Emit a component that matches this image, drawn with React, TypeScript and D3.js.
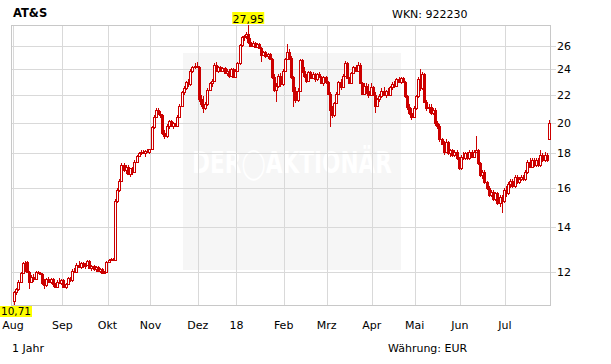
import React from "react";
import * as d3 from "d3";

const title = "AT&S";
const wkn = "WKN: 922230";
const periodLabel = "1 Jahr";
const currencyLabel = "Währung: EUR";
const monthLabels = ["Aug", "Sep", "Okt", "Nov", "Dez", "18", "Feb", "Mrz", "Apr", "Mai", "Jun", "Jul"];
const monthTradingDays = [23, 21, 20, 22, 18, 22, 20, 21, 20, 21, 21, 21];
const yTicks = [12, 14, 16, 18, 20, 22, 24, 26];

// daily candles: [open, high, low, close]
const candles: [number, number, number, number][] = [
  [10.85, 11.25, 10.71, 11.2], [11.2, 11.35, 11.1, 11.3], [11.3, 11.65, 11.25, 11.6], [11.6, 12.0, 11.55, 11.95],
  [11.95, 12.4, 11.9, 12.35], [12.35, 12.45, 12.0, 12.1], [12.4, 12.45, 11.95, 12.0], [12.0, 12.05, 11.3, 11.6],
  [11.6, 11.85, 11.55, 11.8], [11.8, 11.9, 11.6, 11.7], [11.7, 12.05, 11.65, 12.0], [12.0, 12.05, 11.9, 11.95],
  [11.95, 12.0, 11.85, 11.9], [11.9, 11.95, 11.45, 11.55], [11.55, 11.7, 11.3, 11.45], [11.45, 11.75, 11.4, 11.7],
  [11.7, 11.8, 11.55, 11.6], [11.6, 11.75, 11.5, 11.7], [11.7, 11.75, 11.4, 11.5], [11.5, 11.55, 11.35, 11.4],
  [11.4, 11.65, 11.35, 11.6], [11.6, 11.75, 11.5, 11.55], [11.55, 11.7, 11.45, 11.65],
  [11.65, 11.7, 11.35, 11.4], [11.4, 11.55, 11.3, 11.5], [11.5, 11.8, 11.45, 11.75], [11.75, 11.8, 11.6, 11.65],
  [11.65, 12.1, 11.6, 12.05], [12.05, 12.15, 11.95, 12.0], [12.0, 12.35, 11.95, 12.3], [12.3, 12.45, 12.15, 12.2],
  [12.2, 12.4, 12.1, 12.35], [12.35, 12.4, 12.15, 12.25], [12.25, 12.35, 12.1, 12.3], [12.3, 12.5, 12.25, 12.45],
  [12.45, 12.5, 12.1, 12.15], [12.15, 12.3, 12.05, 12.25], [12.25, 12.3, 12.05, 12.1], [12.1, 12.25, 12.0, 12.2],
  [12.2, 12.25, 12.0, 12.05], [12.05, 12.15, 11.95, 12.1], [12.1, 12.15, 11.9, 11.95], [11.95, 12.05, 11.9, 12.0],
  [12.0, 12.45, 11.95, 12.4],
  [12.4, 12.55, 12.35, 12.5], [12.5, 12.6, 12.45, 12.55], [12.55, 12.6, 12.45, 12.5], [12.5, 15.4, 12.45, 15.3],
  [15.3, 16.0, 15.2, 15.9], [15.9, 16.5, 15.8, 16.4], [16.4, 17.4, 16.35, 17.3], [17.3, 17.4, 16.9, 17.0],
  [17.0, 17.3, 16.8, 17.2], [17.2, 17.3, 16.7, 16.8], [16.8, 17.15, 16.6, 17.1], [17.1, 17.2, 16.7, 16.9],
  [16.9, 17.6, 16.85, 17.5], [17.5, 17.9, 17.4, 17.85], [17.85, 18.1, 17.8, 18.0], [18.0, 18.2, 17.9, 18.1],
  [18.1, 18.2, 17.95, 18.05], [18.05, 18.2, 17.8, 18.15], [18.15, 18.25, 18.0, 18.1], [18.1, 18.3, 17.95, 18.25],
  [18.25, 19.8, 18.2, 19.7], [19.7, 20.5, 19.6, 20.4], [20.4, 21.0, 20.3, 20.9], [20.9, 21.0, 20.5, 20.6],
  [20.6, 20.8, 20.3, 20.5], [20.5, 20.6, 19.2, 19.3], [19.3, 19.5, 18.9, 19.1], [19.1, 19.9, 19.0, 19.8],
  [19.8, 20.2, 19.6, 20.1], [20.1, 20.2, 19.7, 19.8], [19.8, 20.05, 19.6, 19.95], [19.95, 20.0, 19.7, 19.8],
  [19.8, 20.5, 19.75, 20.4], [20.4, 21.3, 20.3, 21.2], [21.2, 22.3, 21.1, 22.2], [22.2, 22.7, 22.0, 22.5],
  [22.5, 23.1, 22.4, 23.0], [23.0, 23.2, 22.6, 22.8], [22.8, 24.0, 22.7, 23.9], [23.9, 24.3, 23.7, 24.2],
  [24.2, 24.5, 24.0, 24.3], [24.3, 24.6, 24.1, 24.2],
  [24.2, 24.3, 21.5, 21.7], [21.7, 22.0, 21.1, 21.3], [21.3, 21.9, 20.7, 21.0], [21.0, 21.5, 20.9, 21.3],
  [21.3, 22.5, 21.2, 22.4], [22.4, 23.0, 22.3, 22.9], [22.9, 23.2, 22.6, 23.1], [23.1, 24.5, 23.0, 24.4],
  [24.4, 24.6, 23.8, 23.9], [23.9, 24.3, 23.7, 24.2], [24.2, 24.3, 23.8, 23.9], [23.9, 24.2, 23.8, 24.1],
  [24.1, 24.2, 23.6, 23.7], [23.7, 24.0, 23.5, 23.9], [23.9, 24.0, 23.3, 23.5], [23.5, 24.1, 23.4, 24.0],
  [24.0, 24.1, 23.3, 23.4], [23.4, 24.0, 23.3, 23.9],
  [23.9, 24.6, 23.8, 24.5], [24.5, 26.2, 24.4, 26.1], [26.1, 26.9, 25.9, 26.8], [26.8, 27.0, 26.5, 26.9],
  [26.9, 27.3, 26.6, 27.1], [27.1, 27.95, 26.2, 26.4], [26.4, 26.7, 25.9, 26.0], [26.0, 26.5, 25.9, 26.3],
  [26.3, 26.4, 25.8, 25.9], [25.9, 26.3, 25.8, 26.2], [26.2, 26.3, 25.7, 25.8], [25.8, 25.9, 24.6, 25.2],
  [25.2, 25.6, 25.1, 25.5], [25.5, 25.6, 25.0, 25.1], [25.1, 25.4, 24.9, 25.3], [25.3, 25.4, 24.8, 24.9],
  [24.9, 25.0, 23.2, 23.4], [23.4, 23.6, 22.2, 22.4], [22.4, 22.9, 21.5, 22.7], [22.7, 23.6, 22.5, 23.5],
  [23.5, 23.7, 22.6, 22.8], [22.8, 24.0, 22.7, 23.9],
  [23.9, 25.0, 23.8, 24.9], [24.9, 26.2, 24.8, 25.5], [25.5, 25.7, 24.8, 25.0], [25.0, 25.1, 23.2, 23.4],
  [23.4, 23.5, 21.1, 22.3], [22.3, 22.6, 21.4, 21.6], [21.6, 22.5, 21.5, 22.3], [22.3, 24.9, 22.2, 24.8],
  [24.8, 24.9, 23.7, 23.9], [23.9, 24.2, 23.3, 23.5], [23.5, 23.6, 22.9, 23.1], [23.1, 23.9, 23.0, 23.8],
  [23.8, 23.9, 23.2, 23.3], [23.3, 23.8, 23.2, 23.6], [23.6, 23.7, 23.0, 23.2], [23.2, 23.7, 23.1, 23.6],
  [23.6, 23.8, 23.3, 23.4], [23.4, 23.5, 22.8, 22.9], [22.9, 23.5, 22.7, 23.4], [23.4, 23.5, 22.8, 23.0],
  [23.0, 23.1, 22.0, 22.1], [22.1, 22.2, 19.7, 20.9], [20.9, 21.2, 20.3, 20.5], [20.5, 21.5, 20.4, 21.4],
  [21.4, 22.2, 21.3, 22.1], [22.1, 23.1, 22.0, 23.0], [23.0, 23.2, 22.4, 22.6], [22.6, 23.6, 22.5, 23.5],
  [23.5, 24.7, 23.4, 24.5], [24.5, 24.6, 23.2, 23.3], [23.3, 23.4, 22.8, 22.9], [22.9, 23.8, 22.8, 23.7],
  [23.7, 24.3, 23.6, 24.2], [24.2, 24.4, 23.8, 23.9], [23.9, 24.6, 23.8, 24.4], [24.4, 24.5, 22.8, 22.9],
  [22.9, 23.0, 22.0, 22.1], [22.1, 22.9, 22.0, 22.7], [22.7, 22.9, 22.1, 22.3], [22.3, 22.8, 21.8, 22.0],
  [22.0, 22.9, 21.9, 22.6],
  [22.6, 22.7, 21.9, 22.0], [22.0, 22.2, 20.7, 21.2], [21.2, 21.8, 21.1, 21.7], [21.7, 22.1, 21.5, 21.9],
  [21.9, 22.5, 21.8, 22.3], [22.3, 22.6, 21.9, 22.0], [22.0, 22.4, 21.8, 22.3], [22.3, 22.5, 21.9, 22.0],
  [22.0, 22.7, 21.9, 22.6], [22.6, 23.0, 22.4, 22.8], [22.8, 23.1, 22.5, 22.7], [22.7, 23.3, 22.6, 23.2],
  [23.2, 23.4, 22.9, 23.0], [23.0, 23.4, 22.8, 23.3], [23.3, 23.4, 22.9, 23.0], [23.0, 23.1, 21.8, 21.9],
  [21.9, 22.0, 20.9, 21.1], [21.1, 21.3, 20.5, 20.7], [20.7, 21.0, 20.2, 20.4], [20.4, 21.2, 20.3, 21.0],
  [21.0, 22.0, 20.9, 21.9], [21.9, 23.4, 21.8, 23.2], [23.2, 24.0, 22.3, 22.5], [22.5, 23.8, 22.4, 23.6],
  [23.6, 23.7, 21.4, 21.5], [21.5, 21.6, 20.8, 21.0], [21.0, 21.3, 20.7, 21.1], [21.1, 21.3, 20.5, 20.7],
  [20.7, 21.0, 20.5, 20.9], [20.9, 21.0, 19.8, 20.0], [20.0, 20.1, 19.6, 19.8], [19.8, 19.9, 18.7, 18.9],
  [18.9, 19.0, 18.5, 18.6], [18.6, 18.8, 17.9, 18.1], [18.1, 18.9, 18.0, 18.7], [18.7, 18.8, 17.9, 18.0],
  [18.0, 18.3, 17.8, 18.2], [18.2, 18.3, 17.8, 17.9], [17.9, 18.2, 17.8, 18.1], [18.1, 18.2, 17.6, 17.7],
  [17.7, 17.8, 17.0, 17.1],
  [17.1, 17.9, 17.0, 17.8], [17.8, 18.1, 17.6, 17.7], [17.7, 18.1, 17.6, 18.0], [18.0, 18.1, 17.6, 17.7],
  [17.7, 18.2, 17.6, 18.1], [18.1, 18.2, 17.7, 17.8], [17.8, 18.2, 17.7, 18.1], [18.1, 19.1, 18.0, 18.2],
  [18.2, 18.3, 17.3, 17.4], [17.4, 17.5, 16.6, 16.7], [16.7, 17.0, 16.5, 16.9], [16.9, 17.0, 16.2, 16.3],
  [16.3, 16.4, 15.9, 16.0], [16.0, 16.1, 15.5, 15.6], [15.6, 15.9, 15.5, 15.8], [15.8, 15.9, 15.3, 15.4],
  [15.4, 15.8, 15.3, 15.7], [15.7, 15.8, 15.1, 15.2], [15.2, 15.6, 15.0, 15.5], [15.5, 15.6, 14.7, 15.3],
  [15.3, 16.0, 15.2, 15.9],
  [15.9, 16.1, 15.5, 15.7], [15.7, 16.3, 15.6, 16.2], [16.2, 16.5, 16.0, 16.4], [16.4, 16.5, 16.0, 16.1],
  [16.1, 16.7, 16.0, 16.6], [16.6, 16.7, 16.2, 16.3], [16.3, 16.6, 16.2, 16.5], [16.5, 16.7, 16.4, 16.6],
  [16.6, 16.7, 16.4, 16.5], [16.5, 17.0, 16.4, 16.9], [16.9, 17.6, 16.8, 17.5], [17.5, 17.7, 17.1, 17.2],
  [17.2, 17.7, 17.1, 17.6], [17.6, 17.7, 17.2, 17.3], [17.3, 17.7, 17.2, 17.6], [17.6, 17.7, 17.2, 17.3],
  [17.3, 18.2, 17.2, 17.9], [17.9, 18.0, 17.5, 17.6], [17.6, 18.1, 17.5, 17.9], [17.9, 18.0, 17.5, 17.6],
  [18.9, 20.2, 18.85, 20.0],
];

const W = 611;
const H = 364;
const plotLeft = 11;
const plotRight = 550;
const plotTop = 25;
const plotBottom = 305;
const seriesStart = 13;
const RED = "#cc0000";
const GRID = "#d9d9d9";
const BORDER = "#c8c8c8";
const FONT = "'DejaVu Sans', Verdana, sans-serif";

export default function App() {
  const lowMin = d3.min(candles, (d) => d[2]) as number;
  const highMax = d3.max(candles, (d) => d[1]) as number;
  const y = d3.scaleLog().domain([lowMin, highMax]).range([plotBottom, plotTop]);
  const x = d3
    .scaleBand<number>()
    .domain(d3.range(candles.length))
    .range([seriesStart, plotRight])
    .padding(0);
  const bw = x.bandwidth();
  const cx = (i: number) => (x(i) as number) + bw / 2;

  const monthStarts: number[] = [];
  let acc = 0;
  monthTradingDays.forEach((n) => {
    monthStarts.push(acc);
    acc += n;
  });

  const hiIdx = candles.findIndex((d) => d[1] === highMax);
  const loIdx = candles.findIndex((d) => d[2] === lowMin);
  const labelW = 32;
  const hiX = Math.max(0, cx(hiIdx) - labelW / 2);
  const loX = Math.max(0, cx(loIdx) - labelW / 2);
  const fmt = (v: number) => v.toFixed(2).replace(".", ",");

  return (
    <svg
      width={W}
      height={H}
      style={{ position: "absolute", left: 0, top: 0, background: "#fff" }}
      fontFamily={FONT}
    >
      <rect x={0} y={0} width={W} height={H} fill="#fff" />
      {/* watermark */}
      <rect x={183} y={53} width={218} height={217} fill="#f6f6f6" />
      <text
        x={192}
        y={173}
        fontSize={30}
        fontWeight="bold"
        fill="#ffffff"
        textLength={200}
        lengthAdjust="spacingAndGlyphs"
        fontFamily="'DejaVu Sans Condensed', 'DejaVu Sans', sans-serif"
      >
        DER◯AKTIONÄR
      </text>

      {/* horizontal grid */}
      {yTicks.map((t) => (
        <line
          key={"h" + t}
          x1={plotLeft}
          x2={plotRight + 6}
          y1={Math.round(y(t)) + 0.5}
          y2={Math.round(y(t)) + 0.5}
          stroke={GRID}
          strokeWidth={1}
        />
      ))}
      {/* vertical grid */}
      {monthStarts.map((s, i) => (
        <line
          key={"v" + i}
          x1={Math.round(x(s) as number) + 0.5}
          x2={Math.round(x(s) as number) + 0.5}
          y1={plotTop}
          y2={plotBottom}
          stroke={GRID}
          strokeWidth={1}
        />
      ))}
      {/* border */}
      <rect
        x={plotLeft + 0.5}
        y={plotTop + 0.5}
        width={plotRight - plotLeft}
        height={plotBottom - plotTop}
        fill="none"
        stroke={BORDER}
        strokeWidth={1}
      />

      {/* candles */}
      {candles.map((d, i) => {
        const [o, h, l, c] = d;
        const px = Math.round(cx(i));
        const up = c >= o;
        const top = Math.round(y(Math.max(o, c)));
        const bot = Math.round(y(Math.min(o, c)));
        return (
          <g key={i}>
            <line
              x1={px + 0.5}
              x2={px + 0.5}
              y1={Math.round(y(h))}
              y2={Math.round(y(l))}
              stroke={RED}
              strokeWidth={1}
            />
            <rect
              x={px - 0.5}
              y={top + 0.5}
              width={2}
              height={Math.max(1, bot - top)}
              fill={up ? "#ffffff" : RED}
              stroke={RED}
              strokeWidth={1}
            />
          </g>
        );
      })}

      {/* y axis labels */}
      {yTicks.map((t) => (
        <text key={"yl" + t} x={557} y={y(t)} dy="0.36em" fontSize={11} fill="#000">
          {t}
        </text>
      ))}

      {/* x axis labels */}
      {monthStarts.map((s, i) => (
        <text
          key={"xl" + i}
          x={x(s) as number}
          y={329}
          fontSize={11}
          textAnchor="middle"
          fill="#000"
        >
          {monthLabels[i]}
        </text>
      ))}

      {/* high / low labels */}
      <rect x={hiX} y={12} width={labelW} height={12} fill="#ffff00" />
      <text x={hiX + labelW / 2} y={22.5} fontSize={11} textAnchor="middle" fill="#000">
        {fmt(highMax)}
      </text>
      <rect x={loX} y={306} width={labelW} height={11} fill="#ffff00" />
      <text x={loX + labelW / 2} y={315} fontSize={10.5} textAnchor="middle" fill="#000">
        {fmt(lowMin)}
      </text>

      {/* titles */}
      <text x={13} y={17} fontSize={11.5} fontWeight="bold" fill="#000">
        {title}
      </text>
      <text x={392} y={17.5} fontSize={11} fill="#000">
        {wkn}
      </text>
      <text x={12} y={352} fontSize={11} fill="#000">
        {periodLabel}
      </text>
      <text x={388} y={352} fontSize={11} fill="#000">
        {currencyLabel}
      </text>
    </svg>
  );
}
